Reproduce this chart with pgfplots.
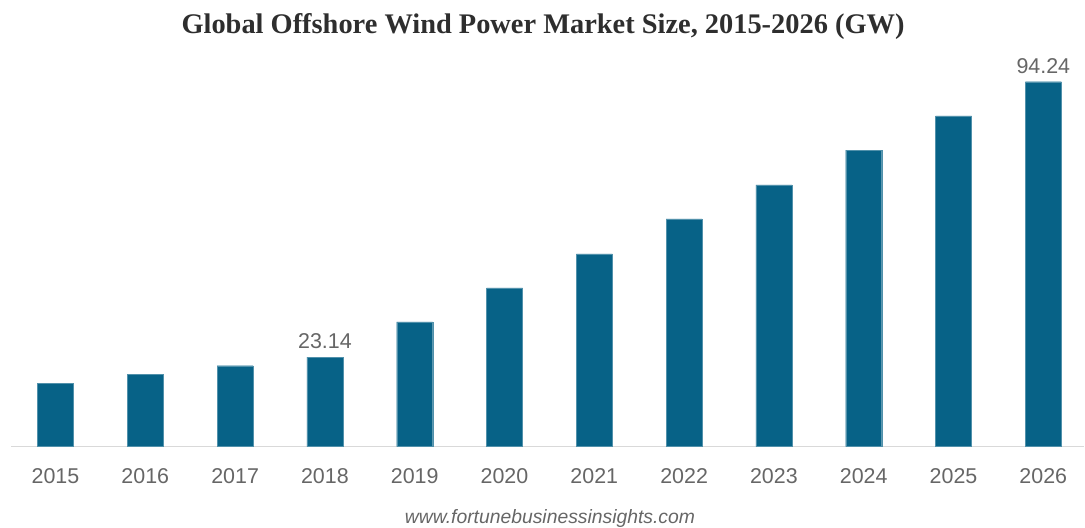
\documentclass[border=0pt]{standalone}
\usepackage{pgfplots}
\pgfplotsset{compat=1.18}
\usepackage{fontspec}
\setmainfont{Liberation Sans}
\newfontfamily\titlefont{Liberation Serif}
\definecolor{barblue}{RGB}{7,98,135}
\definecolor{ticktext}{RGB}{102,102,102}
\definecolor{baseline}{RGB}{217,217,217}
\begin{document}
\begin{tikzpicture}
\useasboundingbox (0,0) rectangle (1085bp,528bp);
\begin{axis}[
  at={(55.5bp,81.3bp)}, anchor=origin,
  x=89.8bp, y=3.873bp,
  xmin=-0.49, xmax=11.45, ymin=0, ymax=100,
  axis y line=none,
  axis x line*=bottom,
  x axis line style={draw=baseline, line width=1bp, -},
  xtick={0,...,11},
  xticklabels={2015,2016,2017,2018,2019,2020,2021,2022,2023,2024,2025,2026},
  major tick length=0pt,
  xticklabel style={font=\fontsize{21.5}{24}\selectfont, text=ticktext, anchor=base, yshift=-36.6bp},
  /pgf/number format/assume math mode=true,
  ybar, bar width=36bp,
  clip=false,
]
\addplot[fill=barblue, draw=barblue!70!white, bar shift=0pt] coordinates {
  (0,16.27) (1,18.59) (2,20.91) (3,23.14) (4,32.2) (5,41.0)
  (6,49.8) (7,58.8) (8,67.6) (9,76.6) (10,85.4) (11,94.24)
};
\addplot[draw=none, fill=none, bar shift=0pt,
  nodes near coords,
  nodes near coords style={font=\fontsize{21.5}{24}\selectfont, text=ticktext, /pgf/number format/fixed, /pgf/number format/precision=2, /pgf/number format/fixed zerofill, /pgf/number format/assume math mode=true, anchor=base, yshift=8.7bp},
] coordinates {(3,23.14) (11,94.24)};
\end{axis}
\node[font=\titlefont\bfseries\fontsize{28.5}{32}\selectfont, text=black!82, anchor=base] at (543bp,494.7bp) {Global Offshore Wind Power Market Size, 2015-2026 (GW)};
\node[font=\itshape\fontsize{19.4}{22}\selectfont, text=ticktext, anchor=base] at (550bp,4.7bp) {www.fortunebusinessinsights.com};
\end{tikzpicture}
\end{document}
